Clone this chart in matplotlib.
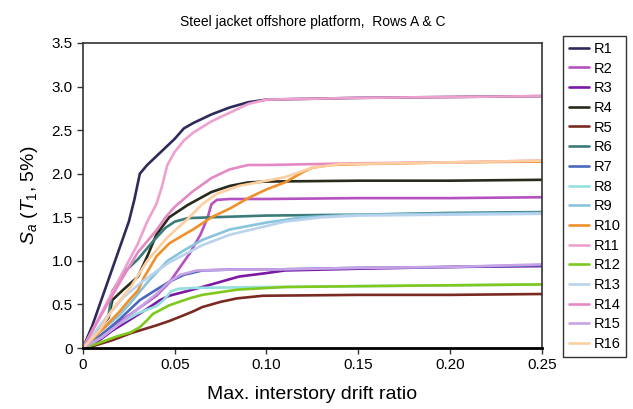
import numpy as np
import matplotlib.pyplot as plt

plt.rcParams['font.family'] = ['Liberation Sans', 'DejaVu Sans']
plt.rcParams['mathtext.fontset'] = 'custom'
plt.rcParams['mathtext.rm'] = 'Liberation Sans'
plt.rcParams['mathtext.it'] = 'Liberation Sans:italic'

# ---- data ----
names = ['R%d' % i for i in range(1, 17)]
colors = ['#2e2b5c', '#b552c2', '#7d18a6', '#2a2a1c', '#7a2a22', '#3b7c7a',
          '#4a68bc', '#94e0e0', '#88c4dc', '#f0902a', '#f0a0cf', '#7fc81e',
          '#b9d3ee', '#e589c4', '#c8a2e6', '#fdcfa0']

R1_x = [0, 0.005, 0.01, 0.015, 0.02, 0.025, 0.028, 0.031, 0.035, 0.04, 0.045, 0.05, 0.055, 0.06, 0.07, 0.08, 0.09, 0.1, 0.15, 0.2, 0.25]
R1_y = [0, 0.25, 0.55, 0.85, 1.15, 1.45, 1.7, 2.0, 2.1, 2.2, 2.3, 2.4, 2.52, 2.58, 2.68, 2.76, 2.82, 2.85, 2.87, 2.88, 2.89]
R2_x = [0, 0.005, 0.01, 0.02, 0.03, 0.04, 0.047, 0.052, 0.058, 0.064, 0.068, 0.07, 0.073, 0.08, 0.1, 0.15, 0.2, 0.25]
R2_y = [0, 0.05, 0.15, 0.3, 0.45, 0.6, 0.75, 0.9, 1.08, 1.3, 1.5, 1.65, 1.7, 1.71, 1.71, 1.72, 1.72, 1.73]
R3_x = [0, 0.009, 0.016, 0.026, 0.035, 0.042, 0.047, 0.058, 0.065, 0.075, 0.085, 0.1, 0.11, 0.15, 0.2, 0.25]
R3_y = [0, 0.09, 0.2, 0.33, 0.45, 0.55, 0.6, 0.66, 0.7, 0.76, 0.82, 0.86, 0.89, 0.91, 0.93, 0.94]
R4_x = [0, 0.008, 0.014, 0.016, 0.022, 0.03, 0.035, 0.04, 0.047, 0.057, 0.07, 0.08, 0.09, 0.1, 0.15, 0.2, 0.25]
R4_y = [0, 0.2, 0.35, 0.55, 0.67, 0.82, 1.05, 1.3, 1.5, 1.64, 1.79, 1.86, 1.9, 1.91, 1.92, 1.92, 1.93]
R5_x = [0, 0.005, 0.016, 0.026, 0.04, 0.047, 0.053, 0.06, 0.065, 0.075, 0.084, 0.098, 0.15, 0.2, 0.25]
R5_y = [0, 0.02, 0.09, 0.17, 0.26, 0.31, 0.36, 0.42, 0.47, 0.53, 0.57, 0.6, 0.61, 0.61, 0.62]
R6_x = [0, 0.008, 0.014, 0.016, 0.022, 0.03, 0.038, 0.045, 0.05, 0.057, 0.07, 0.1, 0.15, 0.2, 0.25]
R6_y = [0, 0.2, 0.38, 0.65, 0.86, 1.02, 1.22, 1.38, 1.45, 1.49, 1.5, 1.52, 1.53, 1.55, 1.56]
R7_x = [0, 0.01, 0.02, 0.031, 0.04, 0.047, 0.055, 0.065, 0.08, 0.1, 0.15, 0.2, 0.25]
R7_y = [0, 0.15, 0.33, 0.55, 0.67, 0.76, 0.84, 0.89, 0.9, 0.9, 0.92, 0.93, 0.95]
R8_x = [0, 0.01, 0.02, 0.03, 0.04, 0.044, 0.048, 0.052, 0.06, 0.1, 0.15, 0.2, 0.25]
R8_y = [0, 0.12, 0.28, 0.4, 0.48, 0.55, 0.65, 0.68, 0.69, 0.7, 0.71, 0.72, 0.73]
R9_x = [0, 0.01, 0.02, 0.026, 0.035, 0.046, 0.055, 0.065, 0.08, 0.1, 0.12, 0.15, 0.2, 0.25]
R9_y = [0, 0.2, 0.38, 0.52, 0.75, 1.0, 1.12, 1.24, 1.36, 1.44, 1.5, 1.53, 1.54, 1.55]
R10_x = [0, 0.01, 0.02, 0.026, 0.03, 0.033, 0.04, 0.047, 0.055, 0.06, 0.07, 0.08, 0.09, 0.1, 0.11, 0.12, 0.125, 0.135, 0.15, 0.2, 0.25]
R10_y = [0, 0.2, 0.42, 0.57, 0.66, 0.8, 1.05, 1.2, 1.3, 1.36, 1.5, 1.6, 1.72, 1.82, 1.9, 2.02, 2.07, 2.1, 2.11, 2.13, 2.14]
R11_x = [0, 0.01, 0.02, 0.03, 0.035, 0.04, 0.043, 0.046, 0.05, 0.055, 0.06, 0.07, 0.08, 0.09, 0.1, 0.15, 0.2, 0.25]
R11_y = [0, 0.4, 0.8, 1.2, 1.45, 1.65, 1.85, 2.1, 2.25, 2.38, 2.47, 2.6, 2.7, 2.8, 2.85, 2.87, 2.88, 2.89]
R12_x = [0, 0.009, 0.018, 0.026, 0.031, 0.035, 0.038, 0.047, 0.058, 0.065, 0.084, 0.11, 0.15, 0.2, 0.25]
R12_y = [0, 0.06, 0.13, 0.18, 0.24, 0.32, 0.39, 0.49, 0.57, 0.61, 0.67, 0.7, 0.71, 0.72, 0.73]
R13_x = [0, 0.01, 0.022, 0.031, 0.04, 0.047, 0.055, 0.065, 0.08, 0.09, 0.11, 0.13, 0.15, 0.2, 0.25]
R13_y = [0, 0.28, 0.58, 0.74, 0.88, 0.98, 1.07, 1.18, 1.3, 1.35, 1.45, 1.5, 1.52, 1.53, 1.54]
R14_x = [0, 0.01, 0.02, 0.03, 0.04, 0.045, 0.05, 0.06, 0.07, 0.08, 0.09, 0.1, 0.15, 0.2, 0.25]
R14_y = [0, 0.38, 0.75, 1.1, 1.35, 1.5, 1.62, 1.8, 1.95, 2.05, 2.1, 2.1, 2.12, 2.13, 2.15]
R15_x = [0, 0.01, 0.02, 0.03, 0.04, 0.047, 0.053, 0.062, 0.08, 0.1, 0.15, 0.2, 0.25]
R15_y = [0, 0.12, 0.28, 0.45, 0.62, 0.76, 0.84, 0.89, 0.9, 0.9, 0.92, 0.93, 0.96]
R16_x = [0, 0.009, 0.016, 0.026, 0.035, 0.046, 0.057, 0.065, 0.073, 0.085, 0.095, 0.11, 0.125, 0.14, 0.2, 0.25]
R16_y = [0, 0.2, 0.44, 0.7, 1.0, 1.27, 1.48, 1.65, 1.77, 1.86, 1.9, 1.96, 2.07, 2.11, 2.13, 2.15]

xs = [R1_x, R2_x, R3_x, R4_x, R5_x, R6_x, R7_x, R8_x, R9_x, R10_x, R11_x, R12_x, R13_x, R14_x, R15_x, R16_x]
ys = [R1_y, R2_y, R3_y, R4_y, R5_y, R6_y, R7_y, R8_y, R9_y, R10_y, R11_y, R12_y, R13_y, R14_y, R15_y, R16_y]

x_ticks = [0, 0.05, 0.10, 0.15, 0.20, 0.25]
x_labels = ['0', '0.05', '0.10', '0.15', '0.20', '0.25']
y_ticks = [0, 0.5, 1.0, 1.5, 2.0, 2.5, 3.0, 3.5]
y_labels = ['0', '0.5', '1.0', '1.5', '2.0', '2.5', '3.0', '3.5']

# ---- figure ----
fig = plt.figure(figsize=(6.33, 4.09), dpi=100)
ax = fig.add_axes([0.131, 0.149, 0.725, 0.746])

for x, y, c, n in zip(xs, ys, colors, names):
    ax.plot(x, y, color=c, lw=1.9, label=n, solid_capstyle='round', solid_joinstyle='round')

ax.set_xlim(0, 0.25)
ax.set_ylim(0, 3.5)
ax.set_xticks(x_ticks)
ax.set_xticklabels(x_labels)
ax.set_yticks(y_ticks)
ax.set_yticklabels(y_labels)
ax.tick_params(labelsize=11, direction='out', length=4, width=1, color='#333333')

for s in ax.spines.values():
    s.set_color('#333333')
    s.set_linewidth(1.2)
ax.spines['bottom'].set_color('black')
ax.spines['bottom'].set_linewidth(2)

ax.set_title('Steel jacket offshore platform,  Rows A & C', fontsize=10, pad=12)
ax.set_xlabel('Max. interstory drift ratio', fontsize=14, labelpad=10)
ax.set_ylabel(r'$S_a$ ($T_1$, 5%)', fontsize=14, labelpad=8)

leg = fig.legend(loc='upper left', bbox_to_anchor=(0.889, 0.912), fontsize=10.5,
                 frameon=True, fancybox=False, handlelength=1.4, handletextpad=0.3,
                 labelspacing=0.39, borderpad=0.4, borderaxespad=0)
leg.get_frame().set_edgecolor('black')
leg.get_frame().set_linewidth(1)

fig.savefig('out.png', dpi=100)
